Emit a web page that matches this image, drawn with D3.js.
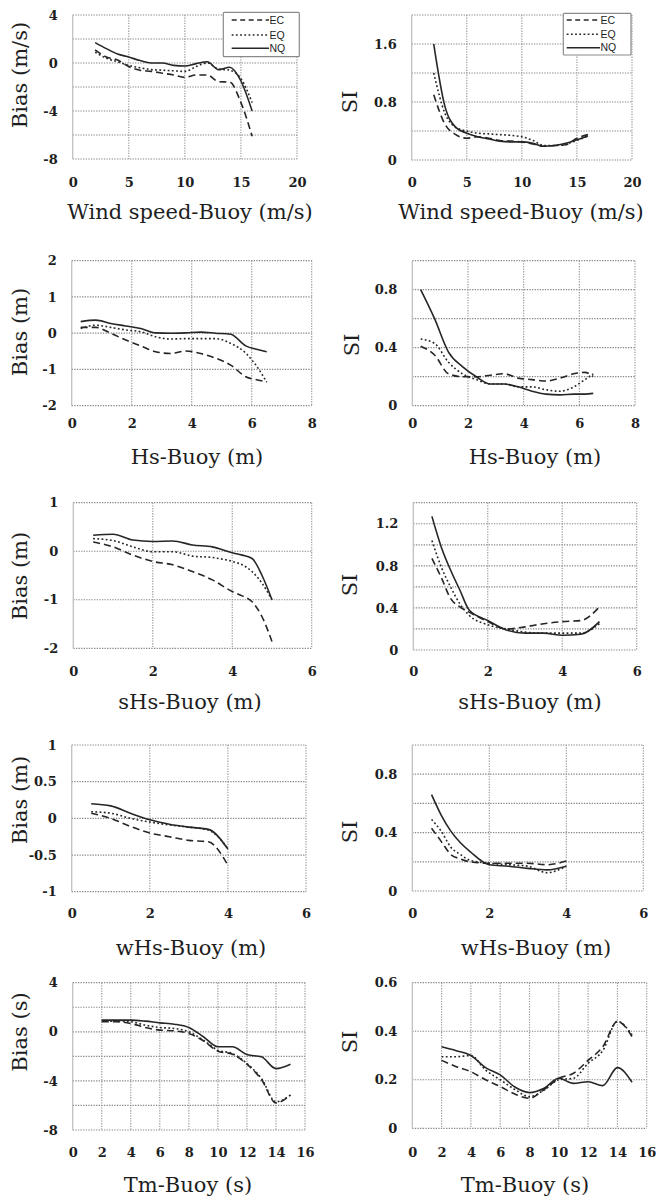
<!DOCTYPE html>
<html>
<head>
<meta charset="utf-8">
<script src="https://cdn.jsdelivr.net/npm/d3@7"></script>
<style>
  body { margin: 0; background: #fff; }
  svg text { font-family: "DejaVu Serif", serif; fill: #1e1e1e; }
</style>
</head>
<body>
<svg id="chart" width="670" height="1196"></svg>
<script>
// series names (models)
const models = ['EC', 'EQ', 'NQ'];

// wind speed bins (m/s)
const windX = [2, 3, 4, 5, 6, 7, 8, 9, 10, 11, 12, 13, 14, 15, 16];
const windBiasEC = [1.1, 0.5, 0.25, -0.3, -0.6, -0.7, -0.85, -1.0, -1.2, -1.0, -1.0, -1.55, -1.6, -3.3, -6.1];
const windBiasEQ = [0.9, 0.4, 0.1, -0.2, -0.4, -0.55, -0.6, -0.65, -0.7, -0.3, 0.0, -0.5, -0.6, -1.3, -3.3];
const windBiasNQ = [1.7, 1.2, 0.75, 0.5, 0.2, 0.0, 0.0, -0.2, -0.25, -0.05, 0.1, -0.55, -0.35, -1.5, -4.0];
const windSiEC = [0.9, 0.5, 0.35, 0.3, 0.32, 0.3, 0.27, 0.26, 0.25, 0.22, 0.19, 0.2, 0.21, 0.3, 0.35];
const windSiEQ = [1.2, 0.65, 0.45, 0.4, 0.37, 0.36, 0.35, 0.34, 0.32, 0.27, 0.2, 0.2, 0.22, 0.27, 0.33];
const windSiNQ = [1.6, 0.75, 0.45, 0.37, 0.32, 0.29, 0.26, 0.25, 0.25, 0.23, 0.19, 0.2, 0.23, 0.28, 0.33];

// Hs bins (m)
const hsX = [0.3, 0.8, 1.3, 1.8, 2.3, 2.8, 3.3, 3.8, 4.3, 4.8, 5.3, 5.8, 6.2, 6.5];
const hsBiasEC = [0.16, 0.16, 0.0, -0.19, -0.35, -0.51, -0.56, -0.49, -0.56, -0.69, -0.88, -1.2, -1.29, -1.34];
const hsBiasEQ = [0.13, 0.22, 0.16, 0.09, 0.04, -0.1, -0.16, -0.15, -0.15, -0.15, -0.28, -0.55, -0.95, -1.35];
const hsBiasNQ = [0.32, 0.36, 0.27, 0.2, 0.13, 0.01, 0.0, 0.01, 0.03, 0.0, -0.03, -0.35, -0.45, -0.51];
const hsSiEC = [0.41, 0.35, 0.22, 0.2, 0.2, 0.21, 0.22, 0.19, 0.18, 0.17, 0.19, 0.22, 0.23, 0.2];
const hsSiEQ = [0.46, 0.43, 0.3, 0.22, 0.18, 0.15, 0.15, 0.13, 0.13, 0.11, 0.1, 0.13, 0.18, 0.22];
const hsSiNQ = [0.8, 0.6, 0.37, 0.27, 0.2, 0.15, 0.15, 0.13, 0.1, 0.08, 0.075, 0.08, 0.08, 0.085];

// swell Hs bins (m)
const shsX = [0.5, 1, 1.5, 2, 2.5, 3, 3.5, 4, 4.25, 4.5, 4.75, 5];
const shsBiasEC = [0.19, 0.09, -0.08, -0.21, -0.28, -0.42, -0.59, -0.83, -0.92, -1.04, -1.35, -1.86];
const shsBiasEQ = [0.26, 0.22, 0.09, -0.01, -0.01, -0.1, -0.13, -0.21, -0.28, -0.42, -0.66, -1.0];
const shsBiasNQ = [0.33, 0.35, 0.23, 0.2, 0.21, 0.13, 0.09, -0.03, -0.08, -0.15, -0.5, -1.0];
const shsSiX = [0.5, 0.75, 1, 1.25, 1.5, 2, 2.5, 3, 3.5, 4, 4.5, 5];
const shsSiEC = [0.87, 0.69, 0.49, 0.41, 0.36, 0.27, 0.2, 0.22, 0.25, 0.27, 0.28, 0.41];
const shsSiEQ = [1.04, 0.79, 0.6, 0.44, 0.33, 0.24, 0.2, 0.17, 0.16, 0.16, 0.16, 0.25];
const shsSiNQ = [1.27, 0.98, 0.76, 0.57, 0.38, 0.28, 0.19, 0.16, 0.16, 0.14, 0.15, 0.27];

// wind-sea Hs bins (m)
const whsX = [0.5, 1, 1.5, 2, 2.5, 3, 3.5, 4];
const whsBiasEC = [0.07, 0.0, -0.11, -0.2, -0.25, -0.3, -0.32, -0.64];
const whsBiasEQ = [0.09, 0.07, 0.0, -0.05, -0.09, -0.12, -0.16, -0.41];
const whsBiasNQ = [0.2, 0.17, 0.07, -0.02, -0.08, -0.12, -0.15, -0.42];
const whsSiX = [0.5, 0.75, 1, 1.25, 1.5, 2, 2.5, 3, 3.5, 4];
const whsSiEC = [0.43, 0.34, 0.25, 0.22, 0.2, 0.19, 0.19, 0.19, 0.18, 0.205];
const whsSiEQ = [0.49, 0.41, 0.3, 0.25, 0.21, 0.19, 0.18, 0.17, 0.125, 0.17];
const whsSiNQ = [0.66, 0.52, 0.41, 0.33, 0.27, 0.18, 0.17, 0.155, 0.145, 0.17];

// mean period bins (s)
const tmX = [2, 3, 4, 5, 6, 7, 8, 9, 10, 11, 12, 13, 14, 15];
const tmBiasEC = [0.82, 0.82, 0.68, 0.35, 0.14, 0.08, -0.14, -0.73, -1.58, -1.82, -2.64, -3.89, -5.79, -5.16];
const tmBiasEQ = [0.87, 0.87, 0.82, 0.54, 0.35, 0.27, 0.0, -0.68, -1.5, -1.77, -2.58, -3.8, -5.7, -5.16];
const tmBiasNQ = [0.95, 0.95, 0.95, 0.87, 0.73, 0.62, 0.35, -0.4, -1.22, -1.22, -1.85, -2.04, -3.0, -2.64];
const tmSiEC = [0.28, 0.254, 0.233, 0.2, 0.172, 0.141, 0.124, 0.16, 0.206, 0.227, 0.28, 0.336, 0.44, 0.378];
const tmSiEQ = [0.295, 0.295, 0.3, 0.24, 0.2, 0.16, 0.13, 0.158, 0.2, 0.206, 0.268, 0.32, 0.44, 0.385];
const tmSiNQ = [0.336, 0.32, 0.3, 0.25, 0.22, 0.17, 0.147, 0.165, 0.206, 0.185, 0.192, 0.176, 0.25, 0.19];

// panels: data + axis settings
const panels = [
  { x: windX, s: [windBiasEC, windBiasEQ, windBiasNQ], xd: [0, 20], xt: [0, 5, 10, 15, 20], xg: 5,
    yd: [-8, 4], yt: [4, 0, -4, -8], yg: 2, xl: 'Wind speed-Buoy (m/s)', yl: 'Bias (m/s)' },
  { x: windX, s: [windSiEC, windSiEQ, windSiNQ], xd: [0, 20], xt: [0, 5, 10, 15, 20], xg: 5,
    yd: [0, 2], yt: [0, 0.8, 1.6], yg: 0.4, xl: 'Wind speed-Buoy (m/s)', yl: 'SI' },
  { x: hsX, s: [hsBiasEC, hsBiasEQ, hsBiasNQ], xd: [0, 8], xt: [0, 2, 4, 6, 8], xg: 2,
    yd: [-2, 2], yt: [2, 1, 0, -1, -2], yg: 1, xl: 'Hs-Buoy (m)', yl: 'Bias (m)' },
  { x: hsX, s: [hsSiEC, hsSiEQ, hsSiNQ], xd: [0, 8], xt: [0, 2, 4, 6, 8], xg: 2,
    yd: [0, 1], yt: [0, 0.4, 0.8], yg: 0.2, xl: 'Hs-Buoy (m)', yl: 'SI' },
  { x: shsX, s: [shsBiasEC, shsBiasEQ, shsBiasNQ], xd: [0, 6], xt: [0, 2, 4, 6], xg: 2,
    yd: [-2, 1], yt: [1, 0, -1, -2], yg: 1, xl: 'sHs-Buoy (m)', yl: 'Bias (m)' },
  { x: shsSiX, s: [shsSiEC, shsSiEQ, shsSiNQ], xd: [0, 6], xt: [0, 2, 4, 6], xg: 2,
    yd: [0, 1.4], yt: [0, 0.4, 0.8, 1.2], yg: 0.2, xl: 'sHs-Buoy (m)', yl: 'SI' },
  { x: whsX, s: [whsBiasEC, whsBiasEQ, whsBiasNQ], xd: [0, 6], xt: [0, 2, 4, 6], xg: 2,
    yd: [-1, 1], yt: [1, 0.5, 0, -0.5, -1], yg: 0.5, xl: 'wHs-Buoy (m)', yl: 'Bias (m)' },
  { x: whsSiX, s: [whsSiEC, whsSiEQ, whsSiNQ], xd: [0, 6], xt: [0, 2, 4, 6], xg: 2,
    yd: [0, 1], yt: [0, 0.4, 0.8], yg: 0.2, xl: 'wHs-Buoy (m)', yl: 'SI' },
  { x: tmX, s: [tmBiasEC, tmBiasEQ, tmBiasNQ], xd: [0, 16], xt: [0, 2, 4, 6, 8, 10, 12, 14, 16], xg: 2,
    yd: [-8, 4], yt: [4, 0, -4, -8], yg: 2, xl: 'Tm-Buoy (s)', yl: 'Bias (s)' },
  { x: tmX, s: [tmSiEC, tmSiEQ, tmSiNQ], xd: [0, 16], xt: [0, 2, 4, 6, 8, 10, 12, 14, 16], xg: 2,
    yd: [0, 0.6], yt: [0, 0.2, 0.4, 0.6], yg: 0.2, xl: 'Tm-Buoy (s)', yl: 'SI' }
];

// where each panel sits on the page
const layout = [
  { l: 72.7, t: 15, r: 297, b: 159, tickY: 182, titleY: 219, titleX: 190, yTitleX: 20, yTitleY: 75 },
  { l: 411.7, t: 15, r: 632, b: 160, tickY: 182, titleY: 219, titleX: 521, yTitleX: 350, yTitleY: 102 },
  { l: 71.7, t: 260.7, r: 311.7, b: 405.7, tickY: 423, titleY: 464, titleX: 197, yTitleX: 20, yTitleY: 332 },
  { l: 412.3, t: 260.7, r: 635, b: 405.7, tickY: 423, titleY: 464, titleX: 535, yTitleX: 352, yTitleY: 345 },
  { l: 73.3, t: 502.7, r: 311.7, b: 648.3, tickY: 671, titleY: 709, titleX: 190, yTitleX: 20, yTitleY: 576 },
  { l: 413.3, t: 502.7, r: 636.7, b: 650, tickY: 671, titleY: 709, titleX: 530, yTitleX: 350, yTitleY: 585 },
  { l: 71.7, t: 745, r: 306, b: 891.7, tickY: 913, titleY: 955, titleX: 191, yTitleX: 20, yTitleY: 800 },
  { l: 412.3, t: 745, r: 643.3, b: 891, tickY: 913, titleY: 955, titleX: 536, yTitleX: 350, yTitleY: 832 },
  { l: 72.7, t: 982.7, r: 305, b: 1130, tickY: 1152, titleY: 1192, titleX: 188, yTitleX: 20, yTitleY: 1032 },
  { l: 412.3, t: 982.7, r: 646.7, b: 1128.3, tickY: 1152, titleY: 1192, titleX: 525, yTitleX: 350, yTitleY: 1042 }
];

// legend boxes (only in the two wind speed panels)
const legends = [
  { panel: 0, l: 223.3, t: 12.3, r: 299.3, b: 56.7, x1: 231.7, x2: 269, rows: [20, 35, 48.3] },
  { panel: 1, l: 563.3, t: 13.3, r: 631, b: 55, x1: 566.7, x2: 600, rows: [20, 34.3, 47.7] }
];

const dashes = { EC: '7,4', EQ: '1.8,2.4', NQ: null };

const svg = d3.select('#chart');

panels.forEach((p, i) => {
  const L = layout[i];
  const x = d3.scaleLinear().domain(p.xd).range([L.l, L.r]);
  const y = d3.scaleLinear().domain(p.yd).range([L.b, L.t]);
  const g = svg.append('g');

  // dotted grid, one line per grid step
  const ny = Math.round((p.yd[1] - p.yd[0]) / p.yg);
  const nx = Math.round((p.xd[1] - p.xd[0]) / p.xg);
  const yGrid = d3.range(ny + 1).map(k => p.yd[0] + k * p.yg);
  const xGrid = d3.range(nx + 1).map(k => p.xd[0] + k * p.xg);

  g.selectAll('.hg').data(yGrid).enter().append('line')
    .attr('x1', L.l).attr('x2', L.r)
    .attr('y1', d => y(d)).attr('y2', d => y(d))
    .attr('stroke', '#858585').attr('stroke-width', 1.2)
    .attr('stroke-dasharray', '1.3,1.3');
  g.selectAll('.vg').data(xGrid.slice(1)).enter().append('line')
    .attr('x1', d => x(d)).attr('x2', d => x(d))
    .attr('y1', L.t).attr('y2', L.b)
    .attr('stroke', '#959595').attr('stroke-width', 1.1)
    .attr('stroke-dasharray', '1.3,1.3');
  g.append('line')
    .attr('x1', x(p.xd[0])).attr('x2', x(p.xd[0]))
    .attr('y1', L.t).attr('y2', L.b)
    .attr('stroke', '#c0c0c0').attr('stroke-width', 1.3);

  // axes
  const fs = 13;
  const xAxis = d3.axisBottom(x).tickValues(p.xt).tickSize(0)
    .tickPadding(L.tickY - L.b - 4.7).tickFormat(d => String(d));
  const ax = g.append('g').attr('transform', `translate(0, ${L.b})`).call(xAxis);
  const yAxis = d3.axisLeft(y).tickValues(p.yt).tickSize(0)
    .tickPadding(15).tickFormat(d => String(d));
  const ay = g.append('g').attr('transform', `translate(${L.l}, 0)`).call(yAxis);
  [ax, ay].forEach(a => {
    a.select('.domain').remove();
    a.attr('font-family', null).attr('font-size', null);
    a.selectAll('text')
      .style('font-family', '"DejaVu Serif", serif')
      .style('font-size', fs + 'px')
      .style('font-weight', 'bold')
      .attr('fill', '#1e1e1e');
  });

  // axis titles
  g.append('text')
    .attr('x', L.titleX).attr('y', L.titleY)
    .attr('text-anchor', 'middle')
    .style('font-size', '21px')
    .text(p.xl);
  g.append('text')
    .attr('transform', `translate(${L.yTitleX}, ${L.yTitleY}) rotate(-90)`)
    .attr('text-anchor', 'middle')
    .attr('dy', '0.35em')
    .style('font-size', '21px')
    .text(p.yl);

  // model curves
  models.forEach((m, k) => {
    const line = d3.line()
      .x((d, j) => x(p.x[j]))
      .y(d => y(d))
      .curve(d3.curveMonotoneX);
    g.append('path')
      .datum(p.s[k])
      .attr('d', line)
      .attr('fill', 'none')
      .attr('stroke', '#262626')
      .attr('stroke-width', 1.6)
      .attr('stroke-dasharray', dashes[m]);
  });
});

// legends
legends.forEach(lg => {
  const g = svg.append('g');
  g.append('rect')
    .attr('x', lg.l).attr('y', lg.t)
    .attr('width', lg.r - lg.l).attr('height', lg.b - lg.t)
    .attr('fill', '#fff').attr('stroke', '#8a8a8a').attr('stroke-width', 1.2)
    .attr('rx', 1);
  models.forEach((m, k) => {
    g.append('line')
      .attr('x1', lg.x1).attr('x2', lg.x2)
      .attr('y1', lg.rows[k]).attr('y2', lg.rows[k])
      .attr('stroke', '#262626').attr('stroke-width', 1.5)
      .attr('stroke-dasharray', m === 'EC' ? '5,3.5' : dashes[m]);
    g.append('text')
      .attr('x', lg.x2 + 0.5).attr('y', lg.rows[k])
      .attr('dy', '0.35em')
      .style('font-family', '"Liberation Sans", sans-serif')
      .style('font-size', '10.5px')
      .attr('fill', '#333')
      .text(m);
  });
});
</script>
</body>
</html>
